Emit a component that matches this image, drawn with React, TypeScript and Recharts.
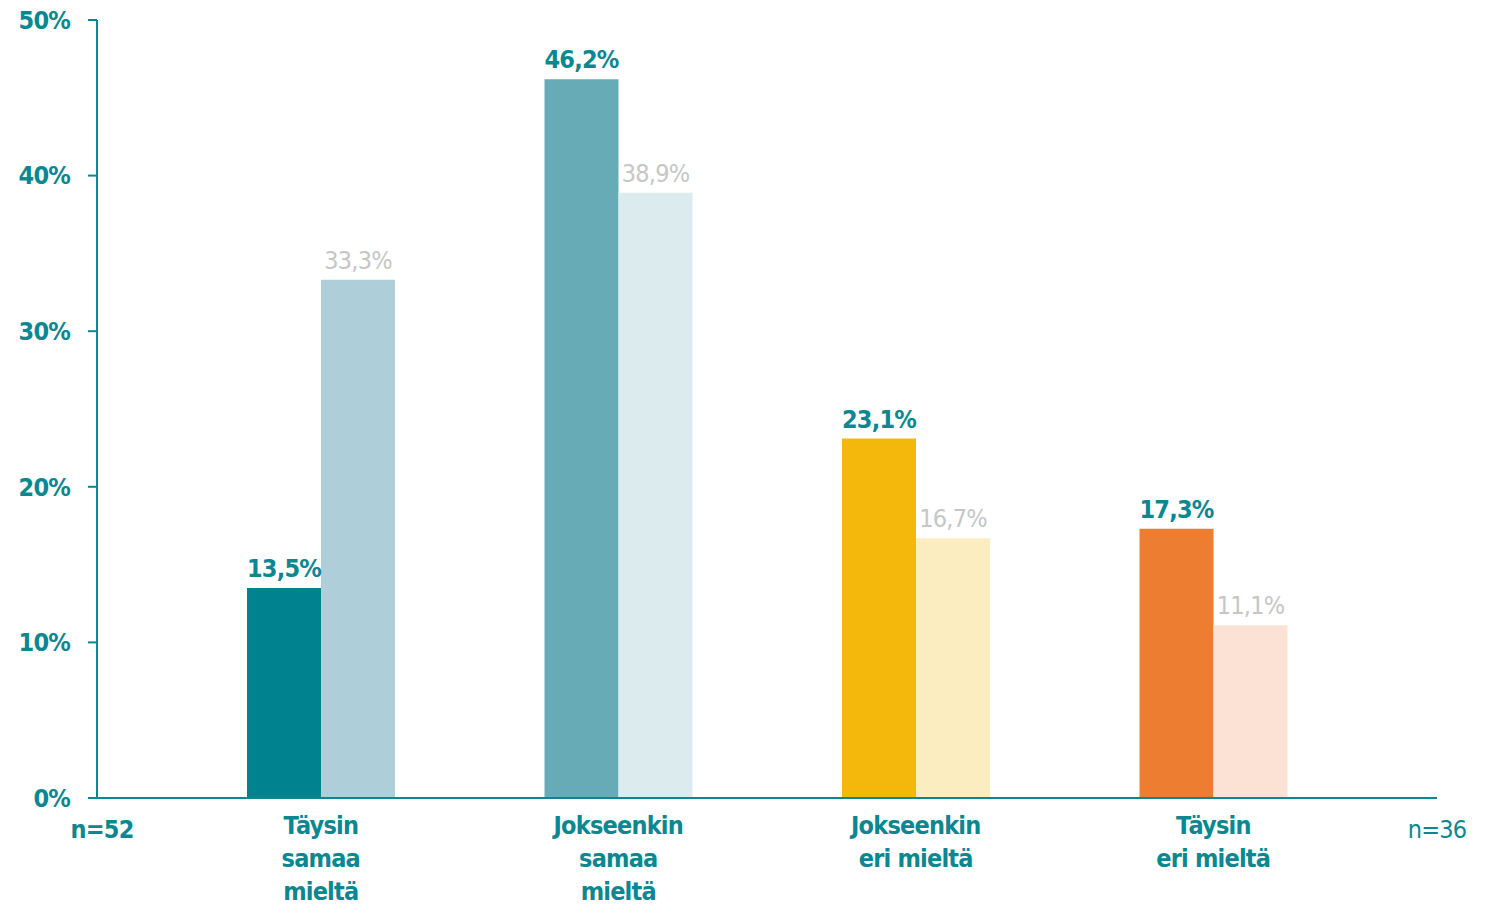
import { BarChart, Bar, XAxis, YAxis, Cell, LabelList } from "recharts";

const categories = ["Täysin samaa mieltä", "Jokseenkin samaa mieltä", "Jokseenkin eri mieltä", "Täysin eri mieltä"];
const categoryLines = [
  ["Täysin", "samaa", "mieltä"],
  ["Jokseenkin", "samaa", "mieltä"],
  ["Jokseenkin", "eri mieltä"],
  ["Täysin", "eri mieltä"]
];
const n52 = [13.5, 46.2, 23.1, 17.3];
const n36 = [33.3, 38.9, 16.7, 11.1];
const yTicks = [0, 10, 20, 30, 40, 50];

const colors52 = ["#00838f", "#67abb7", "#f3b80b", "#ed7d31"];
const colors36 = ["#aecfda", "#dbebee", "#fbedc0", "#fbe2d5"];

const TEAL = "#0a8790";
const FONT = "'DejaVu Sans Condensed', 'Liberation Sans Narrow', sans-serif";
const FS = 25;
const LS = -0.8;

const rows = categories.map((c, i) => ({ name: c, n52: n52[i], n36: n36[i] }));

const pct = (v: any) => `${Number(v).toFixed(1).replace(".", ",")}%`;

function CategoryTick(props: any) {
  const { x, y, index } = props;
  const lines = categoryLines[index] || [];
  return (
    <text x={x} y={y} textAnchor="middle" fill={TEAL} fontFamily={FONT} fontWeight="bold" fontSize={FS} letterSpacing={LS}>
      {lines.map((l, i) => (
        <tspan key={i} x={x} dy={i === 0 ? 28 : 33}>{l}</tspan>
      ))}
    </text>
  );
}

export default function App() {
  return (
    <div style={{ position: "absolute", left: 0, top: 0, width: 1496, height: 908, background: "#fff" }}>
      <BarChart
        width={1496}
        height={908}
        data={rows}
        margin={{ top: 20, right: 59, left: 0, bottom: 0 }}
        barGap={0}
        barCategoryGap={0}
      >
        <YAxis
          width={97}
          domain={[0, 50]}
          ticks={yTicks}
          interval={0}
          tickFormatter={(v) => `${v}%`}
          stroke={TEAL}
          strokeWidth={2}
          tickSize={9}
          tickMargin={18}
          tick={{ fill: TEAL, fontFamily: FONT, fontWeight: "bold", fontSize: FS, letterSpacing: LS }}
        />
        <XAxis
          dataKey="name"
          height={110}
          padding={{ left: 75, right: 75 }}
          stroke={TEAL}
          strokeWidth={2}
          tickLine={false}
          interval={0}
          tick={<CategoryTick />}
        />
        <Bar dataKey="n52" barSize={74} isAnimationActive={false}>
          {rows.map((_, i) => (
            <Cell key={i} fill={colors52[i]} />
          ))}
          <LabelList
            dataKey="n52"
            position="top"
            offset={11}
            formatter={pct}
            fill={TEAL}
            fontFamily={FONT}
            fontWeight="bold"
            fontSize={FS}
            letterSpacing={LS}
          />
        </Bar>
        <Bar dataKey="n36" barSize={74} isAnimationActive={false}>
          {rows.map((_, i) => (
            <Cell key={i} fill={colors36[i]} />
          ))}
          <LabelList
            dataKey="n36"
            position="top"
            offset={11}
            formatter={pct}
            fill="#c6c6c6"
            fontFamily={FONT}
            fontSize={FS}
            letterSpacing={LS}
          />
        </Bar>
        <text x={102} y={838} textAnchor="middle" fill={TEAL} fontFamily={FONT} fontWeight="bold" fontSize={FS} letterSpacing={LS}>
          n=52
        </text>
        <text x={1437} y={838} textAnchor="middle" fill={TEAL} fontFamily={FONT} fontSize={FS} letterSpacing={LS}>
          n=36
        </text>
      </BarChart>
    </div>
  );
}
